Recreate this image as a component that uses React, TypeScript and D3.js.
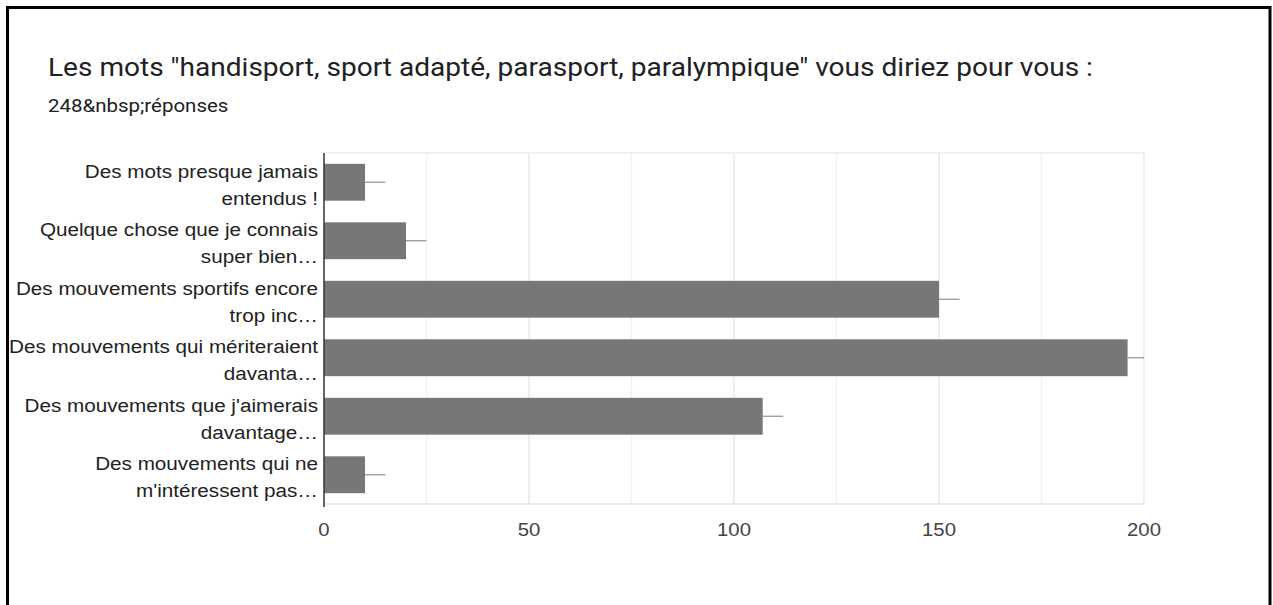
import React, { useEffect, useRef } from 'react';
import * as d3 from 'd3';

const title =
  'Les mots "handisport, sport adapté, parasport, paralympique" vous diriez pour vous :';
const subtitle = '248&nbsp;réponses';

// each label already wrapped / truncated like the original
const categories = [
  'Des mots presque jamais|entendus !',
  'Quelque chose que je connais|super bien…',
  'Des mouvements sportifs encore|trop inc…',
  'Des mouvements qui mériteraient|davanta…',
  "Des mouvements que j'aimerais|davantage…",
  "Des mouvements qui ne|m'intéressent pas…",
];
const counts = [10, 20, 150, 196, 107, 10];
const whiskerEnds = [15, 25, 155, 200, 112, 15];
const majorTicks = [0, 50, 100, 150, 200];
const gridTicks = [25, 50, 75, 100, 125, 150, 175, 200];

const W = 1273;
const H = 605;
// the screenshot text is a bit wider than the fonts we have
const SX = 1.1;

const App: React.FC = () => {
  const ref = useRef(null);

  useEffect(() => {
    if (!ref.current) return;
    const svg = d3.select(ref.current);
    svg.selectAll('*').remove();

    // frame
    svg
      .append('rect')
      .attr('x', 7.5)
      .attr('y', 7.5)
      .attr('width', 1262.5)
      .attr('height', H + 20)
      .attr('fill', '#fff')
      .attr('stroke', '#000')
      .attr('stroke-width', 3);

    svg
      .append('text')
      .attr('transform', `translate(48,76) scale(${SX},1)`)
      .attr('font-family', 'Roboto, sans-serif')
      .attr('font-size', 25.5)
      .attr('fill', '#202124')
      .text(title);

    svg
      .append('text')
      .attr('transform', `translate(48,112) scale(${SX},1)`)
      .attr('font-family', 'Roboto, sans-serif')
      .attr('font-size', 18.6)
      .attr('fill', '#202124')
      .text(subtitle);

    const plot = { left: 324, right: 1144, top: 153, bottom: 504 };

    const x = d3.scaleLinear().domain([0, 200]).range([plot.left, plot.right]);
    const y = d3
      .scaleBand()
      .domain(categories)
      .range([plot.top, plot.bottom])
      .paddingInner(0.37)
      .paddingOuter(0.185);

    // grid
    svg
      .append('g')
      .selectAll('line')
      .data(gridTicks)
      .enter()
      .append('line')
      .attr('x1', (d) => x(d))
      .attr('x2', (d) => x(d))
      .attr('y1', plot.top)
      .attr('y2', plot.bottom)
      .attr('stroke', (d) => (d % 50 === 0 ? '#e3e3e3' : '#f0f0f0'))
      .attr('stroke-width', 1.3);

    svg
      .append('line')
      .attr('x1', plot.left)
      .attr('x2', plot.right)
      .attr('y1', plot.top)
      .attr('y2', plot.top)
      .attr('stroke', '#ececec')
      .attr('stroke-width', 1.3);
    svg
      .append('line')
      .attr('x1', plot.left)
      .attr('x2', plot.right)
      .attr('y1', plot.bottom)
      .attr('y2', plot.bottom)
      .attr('stroke', '#e3e3e3')
      .attr('stroke-width', 1.3);

    // bars
    const rows = categories.map((c, i) => ({ c, v: counts[i], w: whiskerEnds[i] }));
    svg
      .append('g')
      .selectAll('rect')
      .data(rows)
      .enter()
      .append('rect')
      .attr('x', x(0))
      .attr('y', (d) => y(d.c) || 0)
      .attr('width', (d) => x(d.v) - x(0))
      .attr('height', y.bandwidth())
      .attr('fill', '#777777');

    svg
      .append('g')
      .selectAll('line')
      .data(rows)
      .enter()
      .append('line')
      .attr('x1', (d) => x(d.v))
      .attr('x2', (d) => x(d.w))
      .attr('y1', (d) => (y(d.c) || 0) + y.bandwidth() / 2)
      .attr('y2', (d) => (y(d.c) || 0) + y.bandwidth() / 2)
      .attr('stroke', '#999')
      .attr('stroke-width', 1.3);

    // vertical axis line
    svg
      .append('line')
      .attr('x1', plot.left)
      .attr('x2', plot.left)
      .attr('y1', plot.top)
      .attr('y2', plot.bottom + 3)
      .attr('stroke', '#333')
      .attr('stroke-width', 1.5);

    // category labels
    const labels = svg
      .append('g')
      .attr('font-family', '"Liberation Sans", Arial, sans-serif')
      .attr('font-size', 18.8)
      .attr('fill', '#222')
      .attr('text-anchor', 'end')
      .selectAll('text')
      .data(categories)
      .enter()
      .append('text')
      .attr(
        'transform',
        (d) => `translate(318,${(y(d) || 0) + y.bandwidth() / 2 - 4.5}) scale(${SX},1)`
      );
    labels
      .selectAll('tspan')
      .data((d) => d.split('|'))
      .enter()
      .append('tspan')
      .attr('x', 0)
      .attr('dy', (d, i) => (i === 0 ? 0 : 27))
      .text((d) => d);

    // x tick labels
    svg
      .append('g')
      .attr('font-family', '"Liberation Sans", Arial, sans-serif')
      .attr('font-size', 18.5)
      .attr('fill', '#444')
      .attr('text-anchor', 'middle')
      .selectAll('text')
      .data(majorTicks)
      .enter()
      .append('text')
      .attr('transform', (d) => `translate(${x(d)},535.5) scale(${SX},1)`)
      .text((d) => d);

    return () => {
      svg.selectAll('*').remove();
    };
  }, []);

  return (
    <svg
      ref={ref}
      width={W}
      height={H}
      style={{ position: 'absolute', left: 0, top: 0 }}
    ></svg>
  );
};

export default App;
